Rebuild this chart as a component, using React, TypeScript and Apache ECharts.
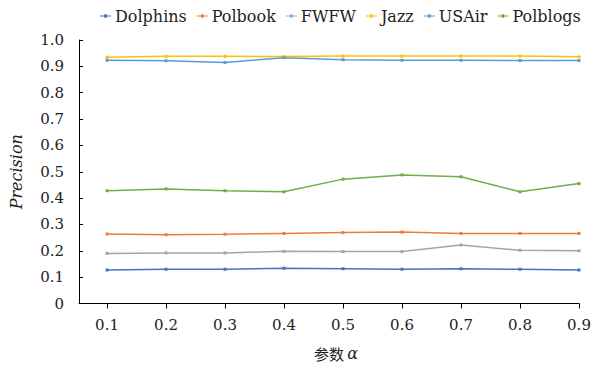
import React, { useEffect, useRef } from "react";
import * as echarts from "echarts";

const alphas = [0.1, 0.2, 0.3, 0.4, 0.5, 0.6, 0.7, 0.8, 0.9];
const seriesNames = ["Dolphins", "Polbook", "FWFW", "Jazz", "USAir", "Polblogs"];
const colors = ["#4472C4", "#ED7D31", "#A5A5A5", "#FFC000", "#5B9BD5", "#70AD47"];
const dolphins = [0.127, 0.13, 0.13, 0.134, 0.132, 0.13, 0.132, 0.13, 0.127];
const polbook = [0.264, 0.261, 0.263, 0.266, 0.269, 0.271, 0.266, 0.266, 0.266];
const fwfw = [0.19, 0.192, 0.192, 0.198, 0.197, 0.197, 0.222, 0.202, 0.2];
const jazz = [0.935, 0.938, 0.938, 0.937, 0.939, 0.939, 0.939, 0.939, 0.936];
const usair = [0.923, 0.921, 0.915, 0.933, 0.925, 0.923, 0.923, 0.922, 0.922];
const polblogs = [0.428, 0.435, 0.428, 0.424, 0.472, 0.488, 0.481, 0.424, 0.455];

const allValues = [dolphins, polbook, fwfw, jazz, usair, polblogs];

const SERIF = "DejaVu Serif";

export default function App() {
  const ref = useRef<HTMLDivElement>(null);
  useEffect(() => {
    if (!ref.current) return;
    const chart = echarts.init(ref.current, null, { renderer: "svg" });
    const legendIcon =
      "path://M0,2.4 L12,2.4 L12,3.6 L0,3.6 Z M4.5,1 L7.5,1 L7.5,5 L4.5,5 Z";
    chart.setOption({
      animation: false,
      backgroundColor: "#ffffff",
      textStyle: { fontFamily: SERIF },
      legend: {
        top: 3,
        left: 95,
        itemWidth: 11,
        itemHeight: 6,
        itemGap: 10,
        icon: legendIcon,
        textStyle: { fontFamily: SERIF, fontSize: 16, color: "#222", padding: [0, 0, 0, -1] },
        data: seriesNames,
      },
      grid: { left: 78, right: 25, top: 40, bottom: 64.5, containLabel: false },
      xAxis: {
        type: "value",
        min: 0.0525,
        max: 0.9,
        splitLine: { show: false },
        axisLine: { show: true, lineStyle: { color: "#000", width: 1 } },
        axisTick: { show: true, inside: false, length: 5, customValues: alphas, lineStyle: { color: "#000" } },
        axisLabel: {
          customValues: alphas,
          formatter: (v: number) => v.toFixed(1),
          fontFamily: SERIF,
          fontSize: 15,
          color: "#222",
          margin: 14,
        },
      },
      yAxis: {
        type: "value",
        min: 0,
        max: 1,
        interval: 0.1,
        name: "Precision",
        nameLocation: "middle",
        nameGap: 55,
        nameTextStyle: { fontFamily: SERIF, fontSize: 16, fontStyle: "italic", color: "#222" },
        splitLine: { show: false },
        axisLine: { show: true, lineStyle: { color: "#000", width: 1 } },
        axisTick: { show: true, inside: true, length: 4, lineStyle: { color: "#000" } },
        axisLabel: {
          formatter: (v: number) => (v === 0 ? "0" : v.toFixed(1)),
          fontFamily: SERIF,
          fontSize: 15,
          color: "#222",
          margin: 15,
        },
      },
      graphic: [
        {
          type: "text",
          left: 314,
          top: 345,
          style: {
            text: "参数 {i|α}",
            fontFamily: "Noto Sans CJK SC",
            fontSize: 15,
            fill: "#222",
            rich: {
              i: { fontFamily: SERIF, fontStyle: "italic", fontSize: 16, fill: "#222" },
            },
          },
        },
      ],
      series: seriesNames.map((name, si) => ({
        name,
        type: "line",
        data: alphas.map((a, i) => [a, allValues[si][i]]),
        symbol: "rect",
        symbolSize: 3,
        showSymbol: true,
        lineStyle: { width: 1.5, color: colors[si] },
        itemStyle: { color: colors[si] },
        z: si === 0 ? 3 : 2,
      })),
    });
    return () => chart.dispose();
  }, []);
  return (
    <div
      ref={ref}
      style={{ position: "fixed", left: 0, top: 0, width: 604, height: 368 }}
    />
  );
}
